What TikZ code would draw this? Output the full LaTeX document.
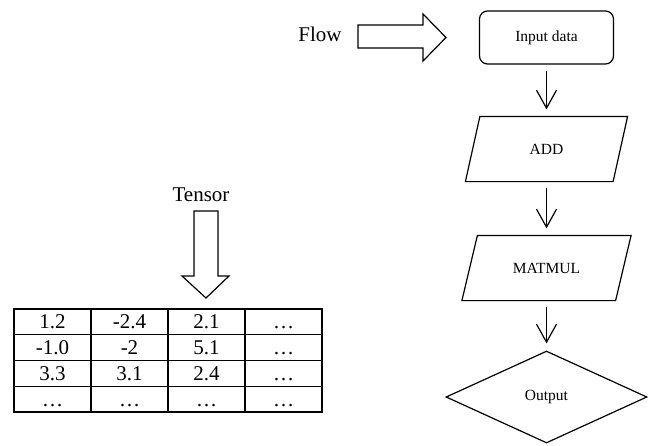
\documentclass[tikz,border=0pt]{standalone}
\usepackage{fontspec}
\setmainfont{Liberation Serif}
\usetikzlibrary{shapes.geometric,arrows.meta}
\begin{document}
\begin{tikzpicture}[x=1pt,y=-1pt, line width=1.2pt,
  lbl/.style={font=\fontsize{21}{25}\selectfont, inner sep=0pt},
  nodetxt/.style={font=\fontsize{15.5}{18}\selectfont},
  startbox/.style={draw, rounded corners=8pt, minimum width=134pt, minimum height=53pt, inner sep=0pt, nodetxt},
  parabox/.style={minimum height=64pt, inner sep=0pt, nodetxt},
  paraline/.style={draw, line join=miter},
  decision/.style={draw, diamond, minimum width=201pt, minimum height=92pt, inner sep=0pt, aspect=2.18, nodetxt},
  flowarrow/.style={-{Straight Barb[length=18pt,width=20pt]}, shorten <=6pt, shorten >=7pt},
  blockarrow/.style={draw, line join=miter},
  cell/.style={draw, minimum width=77pt, minimum height=25.75pt, inner sep=0pt, text height=14.2pt, text depth=0pt, font=\fontsize{21}{25}\selectfont}
]
\useasboundingbox (0,0) rectangle (651,445);

% labels
\node[lbl] (flowlbl) at (320,34) {Flow};
\node[lbl] (tensorlbl) at (201,195) {Tensor};

% block arrows
\draw[blockarrow] (358,25) -- (423,25) -- (423,14) -- (446,37.5) -- (423,61) -- (423,48) -- (358,48) -- cycle;
\draw[blockarrow] (194,211) -- (218,211) -- (218,276) -- (229,276) -- (206,298) -- (182,276) -- (194,276) -- cycle;

% flowchart
\node[startbox] (inp) at (546.5,37.5) {Input data};

\node[parabox, minimum width=146.5pt] (add) at (546.5,149) {ADD};
\draw[paraline] ([xshift=7.25pt]add.north west) -- ([xshift=7.25pt]add.north east)
  -- ([xshift=-7.25pt]add.south east) -- ([xshift=-7.25pt]add.south west) -- cycle;

\node[parabox, minimum width=152.5pt] (mm) at (546.5,268) {MATMUL};
\draw[paraline] ([xshift=7.75pt]mm.north west) -- ([xshift=7.75pt]mm.north east)
  -- ([xshift=-7.75pt]mm.south east) -- ([xshift=-7.75pt]mm.south west) -- cycle;

\node[decision] (out) at (546.5,397) {Output};

\draw[flowarrow] (inp.south) -- (add.north);
\draw[flowarrow] (add.south) -- (mm.north);
\draw[flowarrow] (mm.south) -- (out.north);

% table
\foreach \r/\y/\a/\b/\c/\d in {1/321.875/1.2/-2.4/2.1/…, 2/347.625/-1.0/-2/5.1/…, 3/373.375/3.3/3.1/2.4/…, 4/399.125/…/…/…/…}{
  \node[cell] (c\r-1) at (52.5,\y) {\a};
  \node[cell] (c\r-2) at (129.5,\y) {\b};
  \node[cell] (c\r-3) at (206.5,\y) {\c};
  \node[cell] (c\r-4) at (283.5,\y) {\d};
}
\end{tikzpicture}
\end{document}
